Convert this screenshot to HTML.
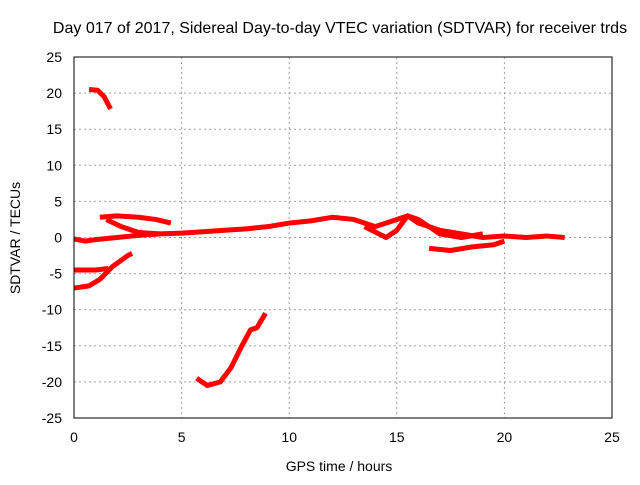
<!DOCTYPE html>
<html><head><meta charset="utf-8"><style>
body{margin:0;background:#fff;}
svg text{font-family:"Liberation Sans",sans-serif;font-size:14px;fill:#000;}
</style></head><body>
<svg id="chart" width="640" height="480" xmlns="http://www.w3.org/2000/svg">
<text x="340" y="33" text-anchor="middle" style="font-size:16px">Day 017 of 2017, Sidereal Day-to-day VTEC variation (SDTVAR) for receiver trds</text>
<text x="339" y="471" text-anchor="middle">GPS time / hours</text>
<text transform="translate(20,238) rotate(-90)" text-anchor="middle">SDTVAR / TECUs</text>
<g id="grid"></g><g id="series"></g>
<rect x="74" y="57" width="538" height="361" fill="none" stroke="#000" stroke-width="1"/>
</svg>
<script>
const xTicks=[0,5,10,15,20,25];
const yTicks=[25,20,15,10,5,0,-5,-10,-15,-20,-25];
const track1=[[0.7,20.5],[1.1,20.4],[1.4,19.5],[1.7,17.8]];
const track2=[[0,-0.2],[0.5,-0.5],[1,-0.3],[2,0],[3,0.3],[4,0.5],[5,0.6],[6,0.8],[7,1],[8,1.2],[9,1.5],[10,2],[11,2.3],[12,2.8],[13,2.5],[14,1.5],[15,2.5],[15.5,3],[16,2],[17,1],[18,0.5],[19,0],[20,0.2],[21,0],[22,0.2],[22.8,0]];
const track3=[[1.2,2.8],[2,3],[3,2.8],[3.8,2.5],[4.5,2]];
const track4=[[1.5,2.5],[2.2,1.5],[3,0.7],[4,0.5]];
const track5=[[0,-4.5],[1,-4.5],[1.6,-4.3]];
const track6=[[0,-7],[0.7,-6.7],[1.2,-5.8],[1.8,-4],[2.5,-2.5],[2.7,-2.2]];
const track7=[[5.7,-19.5],[6.2,-20.5],[6.8,-20],[7.3,-18],[7.8,-15],[8.2,-12.8],[8.5,-12.5],[8.9,-10.5]];
const track8=[[16.5,-1.5],[17.5,-1.8],[18.5,-1.3],[19.5,-1],[20,-0.5]];
const track9=[[13.5,1.5],[14.5,0],[15,1],[15.5,3],[16,2.5],[16.5,1.5],[17,0.5],[18,0],[19,0.5]];
const tracks=[track1,track2,track3,track4,track5,track6,track7,track8,track9];
const X=v=>74+(v-0)/25*538;
const Y=v=>418-(v+25)/50*361;
const NS="http://www.w3.org/2000/svg";
const g=document.getElementById('grid');
xTicks.forEach(t=>{
  const l=document.createElementNS(NS,'line');
  l.setAttribute('x1',X(t));l.setAttribute('x2',X(t));l.setAttribute('y1',57);l.setAttribute('y2',418);
  l.setAttribute('stroke','#a0a0a0');l.setAttribute('stroke-dasharray','2,3');
  
  
  g.appendChild(l);
  const s=document.createElementNS(NS,'text');
  s.setAttribute('x',X(t));s.setAttribute('y',442);s.setAttribute('text-anchor','middle');s.textContent=t;
  
  
  g.appendChild(s);
});
yTicks.forEach(t=>{
  const l=document.createElementNS(NS,'line');
  l.setAttribute('x1',74);l.setAttribute('x2',612);l.setAttribute('y1',Y(t));l.setAttribute('y2',Y(t));
  l.setAttribute('stroke','#a0a0a0');l.setAttribute('stroke-dasharray','2,3');
  
  
  g.appendChild(l);
  const s=document.createElementNS(NS,'text');
  s.setAttribute('x',62);s.setAttribute('y',Y(t)+5);s.setAttribute('text-anchor','end');s.textContent=t;
  
  
  g.appendChild(s);
});
const sg=document.getElementById('series');
tracks.forEach(tr=>{
  const p=document.createElementNS(NS,'polyline');
  p.setAttribute('points',tr.map(d=>X(d[0])+','+Y(d[1])).join(' '));
  p.setAttribute('fill','none');p.setAttribute('stroke','#ff0000');p.setAttribute('stroke-width','5');
  p.setAttribute('stroke-linejoin','round');
  
  
  sg.appendChild(p);
});
</script>
</body></html>
